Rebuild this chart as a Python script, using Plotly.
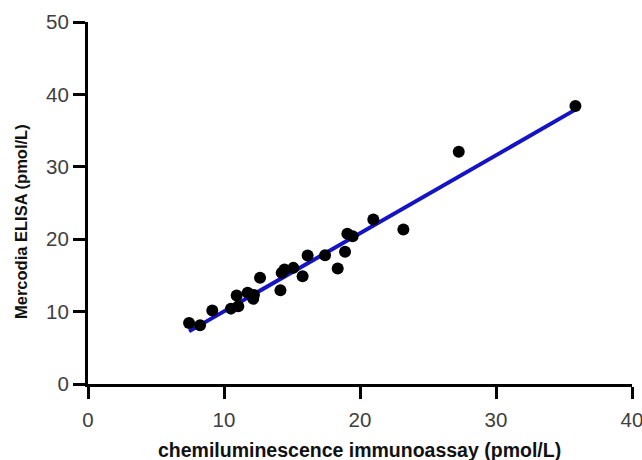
import plotly.graph_objects as go

# Data
cia = [7.43, 8.24, 9.14, 10.51, 10.93, 11.05, 11.74, 12.15, 12.2, 12.65,
       14.15, 14.24, 14.45, 15.1, 15.78, 16.15, 17.43, 18.36, 18.9, 19.07,
       19.46, 20.98, 23.19, 27.26, 35.84]
elisa = [8.44, 8.1, 10.14, 10.41, 12.21, 10.73, 12.59, 11.76, 12.3, 14.66,
         12.95, 15.35, 15.8, 16.04, 14.88, 17.74, 17.79, 15.95, 18.26, 20.75,
         20.41, 22.72, 21.34, 32.07, 38.39]

# Regression line
fit_slope = 1.078
fit_intercept = -0.74
fit_x = [min(cia), max(cia)]
fit_y = [fit_slope * v + fit_intercept for v in fit_x]

x_ticks = [0, 10, 20, 30, 40]
y_ticks = [0, 10, 20, 30, 40, 50]

tick_font = dict(family="Liberation Sans, Arial, sans-serif", size=20.5, color="#404040")
xtitle_font = dict(family="Liberation Sans, Arial, sans-serif", size=19.5, color="#111111")
ytitle_font = dict(family="Liberation Sans, Arial, sans-serif", size=16.5, color="#111111")

fig = go.Figure()
fig.add_trace(go.Scatter(x=fit_x, y=fit_y, mode="lines",
                         line=dict(color="#1414c4", width=4), showlegend=False))
fig.add_trace(go.Scatter(x=cia, y=elisa, mode="markers",
                         marker=dict(color="black", size=12), showlegend=False))

axis_common = dict(showgrid=False, zeroline=False, automargin=False,
                   showline=True, linecolor="black", linewidth=3,
                   ticks="outside", ticklen=12, tickwidth=3, tickcolor="black",
                   tickfont=tick_font, ticklabeloverflow="allow")

fig.update_layout(
    width=642, height=460,
    margin=dict(l=88, r=10, t=22, b=76),
    plot_bgcolor="white", paper_bgcolor="white",
    xaxis=dict(range=[0, 40], tickvals=x_ticks, ticklabelstandoff=3, **axis_common),
    yaxis=dict(range=[0, 50], tickvals=y_ticks, **axis_common),
    annotations=[
        dict(text="<b>chemiluminescence immunoassay (pmol/L)</b>", xref="paper", yref="paper",
             x=(359.5 - 88) / 544, y=-(450 - 384) / 362, xanchor="center", yanchor="middle",
             showarrow=False, font=xtitle_font),
        dict(text="<b>Mercodia ELISA (pmol/L)</b>", xref="paper", yref="paper",
             x=-(88 - 21) / 544, y=(384 - 222) / 362, xanchor="center", yanchor="middle",
             textangle=-90, showarrow=False, font=ytitle_font),
    ],
)

fig.write_html("out.html")
